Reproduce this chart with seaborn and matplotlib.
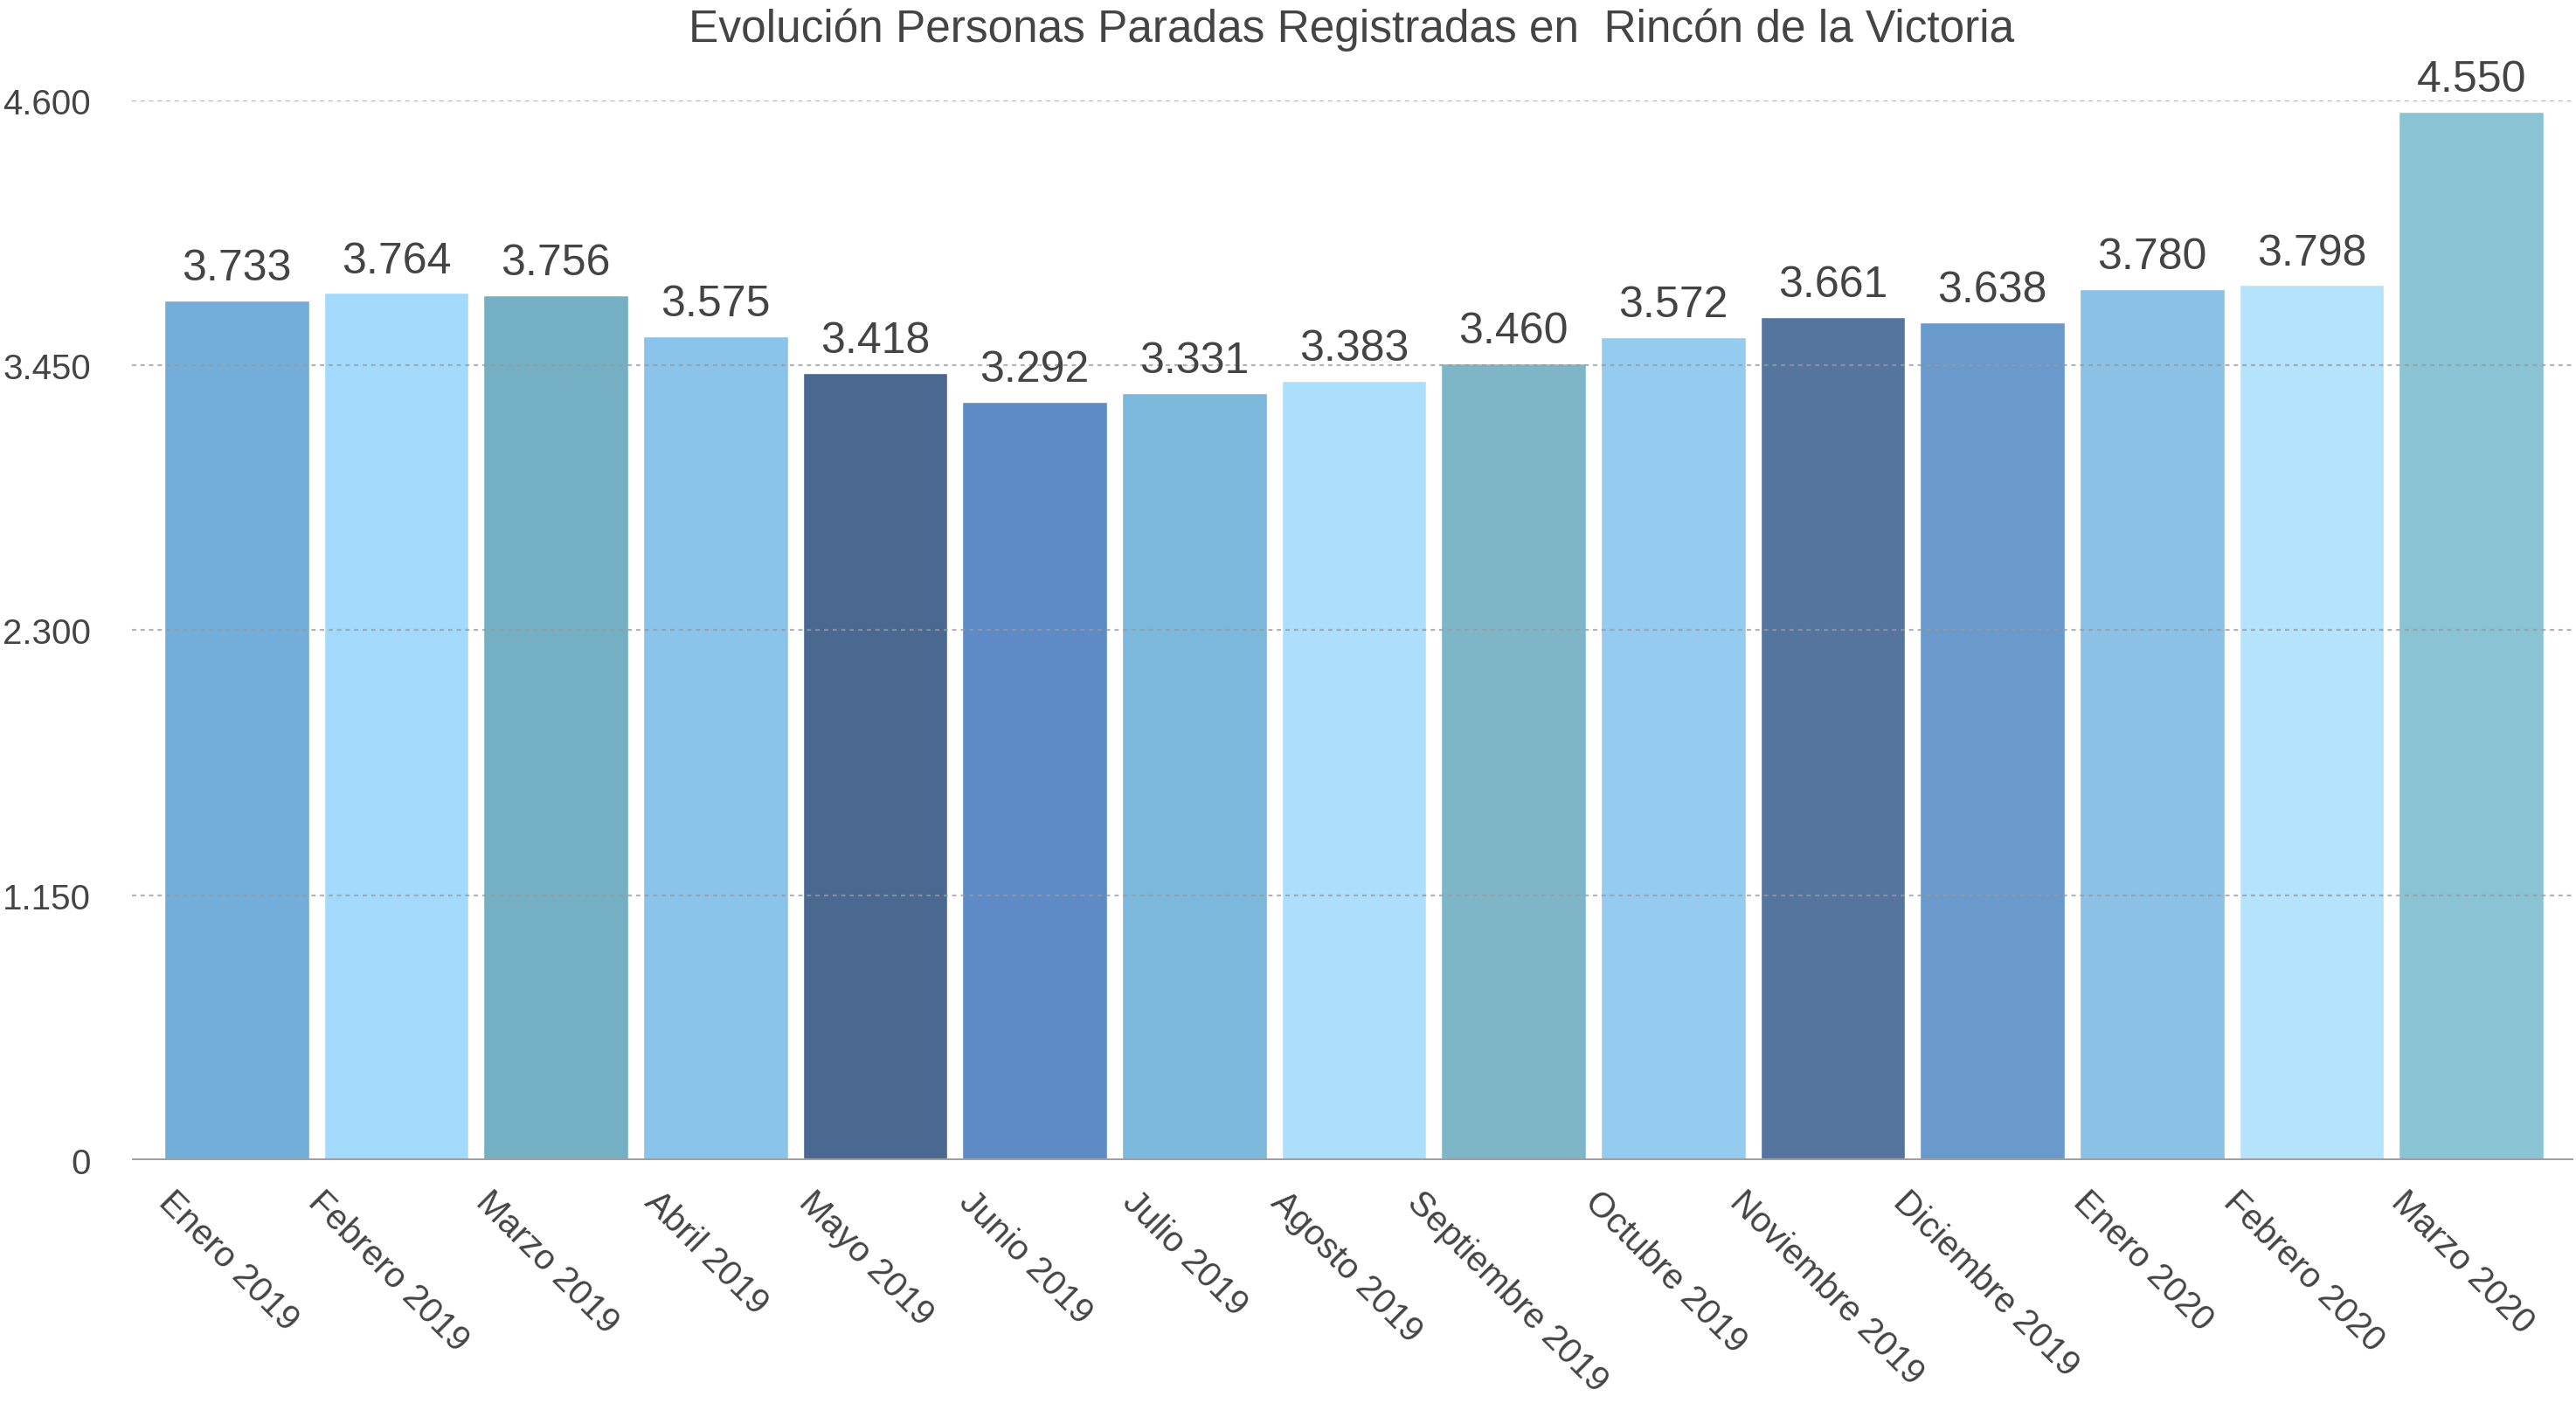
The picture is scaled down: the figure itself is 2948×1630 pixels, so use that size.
import numpy as np
import pandas as pd
import matplotlib
matplotlib.use('Agg')
import matplotlib.pyplot as plt
import matplotlib.transforms as mtransforms
import seaborn as sns

meses = ['Enero 2019', 'Febrero 2019', 'Marzo 2019', 'Abril 2019', 'Mayo 2019',
         'Junio 2019', 'Julio 2019', 'Agosto 2019', 'Septiembre 2019', 'Octubre 2019',
         'Noviembre 2019', 'Diciembre 2019', 'Enero 2020', 'Febrero 2020', 'Marzo 2020']
parados = [3733, 3764, 3756, 3575, 3418, 3292, 3331, 3383, 3460, 3572,
           3661, 3638, 3780, 3798, 4550]
colores = ['#72AED9', '#A3DAFC', '#74AFC3', '#8AC4EA', '#4A6890',
           '#5E8BC5', '#7CB7DC', '#ADDFFC', '#7EB6C8', '#95CBEF',
           '#55759F', '#6A99CC', '#8AC1E4', '#B5E3FC', '#8AC3D4']
yticks = [0, 1150, 2300, 3450, 4600]

txt = '#444444'

sns.set_theme(style='white')
plt.rcParams['font.family'] = ['Liberation Sans', 'DejaVu Sans']

df = pd.DataFrame({'mes': meses, 'parados': parados})

fig = plt.figure(figsize=(29.48, 16.31), dpi=100)
ax = fig.add_axes([0.0512, 0.1852, 0.9478, 0.7437])

sns.barplot(data=df, x='mes', y='parados', hue='mes', palette=colores,
            legend=False, width=0.907, saturation=1, ax=ax, zorder=1)

ax.set_ylim(0, 4600)
ax.set_xlim(-0.657, 14.64)
ax.set_yticks(yticks)
ax.set_yticklabels([f'{v:,}'.replace(',', '.') for v in yticks])
for v in yticks[1:]:
    ax.axhline(v, color='#9a9a9a', linestyle=(0, (2.2, 2.2)), linewidth=1.6,
               alpha=0.75, zorder=2)
ax.axhline(0, color='#a0a0a0', linewidth=3, zorder=3)

for s in ax.spines.values():
    s.set_visible(False)

ax.set_xlabel('')
ax.set_ylabel('')
ax.tick_params(axis='y', length=0, pad=34, labelsize=29, labelcolor=txt)
ax.tick_params(axis='x', length=0, pad=20, labelsize=29, labelcolor=txt)
for lab in ax.get_xticklabels():
    lab.set_rotation(-45)
    lab.set_ha('left')
    lab.set_va('top')
    lab.set_rotation_mode('anchor')

# longer labels sit a bit further left in the original
fig.canvas.draw()
renderer = fig.canvas.get_renderer()
for lab in ax.get_xticklabels():
    w = lab.get_window_extent(renderer).width
    dx = -66 - 0.46 * (w - 165)
    lab.set_transform(lab.get_transform() +
                      mtransforms.ScaledTranslation(dx / 100, 0, fig.dpi_scale_trans))

for i, v in enumerate(parados):
    ax.annotate(f'{v:,}'.replace(',', '.'), (i, v), xytext=(0, 10),
                textcoords='offset points', ha='center', va='bottom',
                fontsize=36, color=txt, zorder=5, annotation_clip=False)

fig.text(0.5245, 0.979, 'Evolución Personas Paradas Registradas en  Rincón de la Victoria',
         ha='center', va='center', fontsize=37, color=txt)

fig.savefig('out.png', dpi=100, facecolor='white')
